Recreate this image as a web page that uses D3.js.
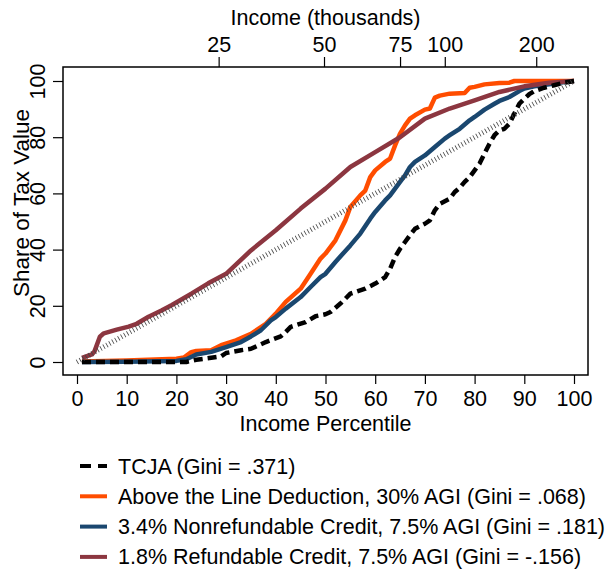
<!DOCTYPE html>
<html lang="en">
<head>
    <meta charset="UTF-8">
    <title>Share of Tax Value by Income Percentile</title>
    <script src="https://d3js.org/d3.v7.min.js"></script>
    <style>
        body {margin:0;background:#fff}
        text {font-family:"Liberation Sans", Arial, sans-serif;fill:#000}
    </style>
</head>
<body>
    <div id="chart"></div>
    <script>
        // series: percentile -> cumulative share of tax value
        var tcjaPct = [1, 22, 24, 27, 29, 30, 33, 35, 38, 41, 42, 43, 46, 48, 50, 51, 53, 55, 58, 60, 61, 62, 63, 64, 65, 66, 67, 68, 70, 71, 72, 73, 75, 76, 77, 78, 79, 80, 81, 82, 83, 84, 85, 86, 87, 88, 89, 90, 91, 92, 94, 96, 98, 100];
        var tcjaVal = [0, 0, 0.8, 1.5, 2, 3.2, 4.2, 4.7, 7.1, 9.1, 10.7, 12.5, 14.2, 16.3, 17, 17.8, 20.8, 24.3, 26.1, 27.9, 29, 30.2, 33.2, 37.4, 40.3, 42.7, 45.1, 47.4, 49.2, 50.4, 54, 56.3, 58.1, 60.5, 62, 64.1, 65.8, 68.2, 70.6, 74.2, 77.7, 80.7, 82.4, 83, 84.8, 88.4, 91.9, 93.7, 95.3, 96.4, 97.6, 98.5, 99.4, 100];

        var atlPct = [1, 10, 20, 21.5, 23, 24, 27, 29, 32, 35, 38, 40, 42, 45, 47, 49, 50, 52, 54, 55, 57, 58, 59, 60, 62, 63, 64, 65, 66, 67, 68, 70, 71, 72, 73, 75, 78, 79, 80, 82, 85, 87, 88, 90, 100];
        var atlVal = [0.2, 0.5, 1.2, 1.6, 3.5, 3.9, 4.2, 6, 7.7, 10, 13.6, 17.2, 21.4, 26.1, 31.4, 36.8, 38.6, 43.3, 50.4, 55.2, 59.3, 61, 65.8, 68.2, 71.2, 72.4, 77.1, 81.3, 84.2, 86.6, 87.8, 89.8, 90.2, 94.1, 94.8, 95.5, 95.7, 97.6, 97.9, 98.8, 99.3, 99.4, 100, 100, 100];

        var nonrefPct = [1, 10, 20, 22, 24, 27, 30, 33, 35, 37, 39, 40, 42, 45, 47, 49, 50, 52, 55, 57, 59, 60, 62, 63, 65, 66, 67, 68, 70, 72, 74, 75, 77, 79, 80, 82, 84, 85, 87, 89, 90, 92, 95, 97, 100];
        var nonrefVal = [0, 0.1, 0.4, 1, 2.7, 3.6, 5.3, 7.1, 9.1, 11.3, 14.8, 16, 19, 23.1, 26.7, 30.2, 31.4, 35.6, 41.5, 45.7, 51, 53.4, 57.5, 59.3, 64.1, 66.4, 69.4, 71.2, 73.5, 76.5, 79.5, 80.7, 83, 86, 87.2, 89.8, 91.9, 92.9, 94.3, 96.4, 97.3, 98.1, 98.8, 99.4, 100];

        var refPct = [1, 3, 3.5, 4.6, 5.4, 8, 10.4, 12, 14.4, 17, 19.1, 23.1, 26.4, 30, 35, 40, 45, 50, 55, 60, 65, 70, 75, 80, 85, 90, 95, 100];
        var refVal = [1.5, 2.7, 3.7, 9, 10.2, 11.5, 12.6, 13.6, 16.1, 18.3, 20.3, 24.4, 28, 31.4, 39.7, 46.9, 54.6, 61.7, 69.4, 74.7, 80, 86.6, 90.2, 93.1, 96.1, 98.1, 99.4, 100];

        var equalityPct = [0, 100];

        var pctTicks = [0, 10, 20, 30, 40, 50, 60, 70, 80, 90, 100];
        var shareTicks = [0, 20, 40, 60, 80, 100];
        var incomeLabels = ["25", "50", "75", "100", "200"];
        var incomeAtPct = [28.5, 49.7, 65, 74, 92.4];

        var seriesNames = [
            "TCJA (Gini = .371)",
            "Above the Line Deduction, 30% AGI (Gini = .068)",
            "3.4% Nonrefundable Credit, 7.5% AGI (Gini = .181)",
            "1.8% Refundable Credit, 7.5% AGI (Gini = -.156)"
        ];

        var W = 610, H = 572;
        var box = {left: 63, right: 588, top: 67, bottom: 375};
        var fs = 21.5;

        var svg = d3.select("#chart").append("svg")
            .attr("width", W)
            .attr("height", H);

        var x = d3.scaleLinear().domain([0, 100]).range([77, 574]);
        var y = d3.scaleLinear().domain([0, 100]).range([362, 81]);

        function zipSeries(ps, vs) {
            return ps.map((p, i) => ({p: p, v: vs[i]}));
        }
        var line = d3.line().x(d => x(d.p)).y(d => y(d.v));

        var series = [
            {name: seriesNames[1], data: zipSeries(atlPct, atlVal), color: "#ff4d00", dash: null},
            {name: seriesNames[2], data: zipSeries(nonrefPct, nonrefVal), color: "#1a476f", dash: null},
            {name: seriesNames[3], data: zipSeries(refPct, refVal), color: "#8c3640", dash: null},
            {name: seriesNames[0], data: zipSeries(tcjaPct, tcjaVal), color: "#000", dash: "9,5"}
        ];

        svg.selectAll("path.series")
            .data(series)
            .enter()
            .append("path")
            .attr("class", "series")
            .attr("d", d => line(d.data))
            .attr("fill", "none")
            .attr("stroke", d => d.color)
            .attr("stroke-width", 4.5)
            .attr("stroke-linejoin", "round")
            .attr("stroke-dasharray", d => d.dash);

        // line of equality, drawn as fine hatching
        svg.append("path")
            .attr("d", line(equalityPct.map(p => ({p: p, v: p}))))
            .attr("fill", "none")
            .attr("stroke", "#444")
            .attr("stroke-width", 5)
            .attr("stroke-dasharray", "0.8,2.6");

        // plot frame
        svg.append("rect")
            .attr("x", box.left)
            .attr("y", box.top)
            .attr("width", box.right - box.left)
            .attr("height", box.bottom - box.top)
            .attr("fill", "none")
            .attr("stroke", "#000")
            .attr("stroke-width", 1.5);

        // bottom axis
        var bottomAxis = svg.append("g")
            .attr("transform", `translate(0,${box.bottom})`)
            .call(d3.axisBottom(x).tickValues(pctTicks).tickSize(9).tickSizeOuter(0).tickPadding(7));
        bottomAxis.select(".domain").remove();

        // left axis, labels turned on their side
        var leftAxis = svg.append("g")
            .attr("transform", `translate(${box.left},0)`)
            .call(d3.axisLeft(y).tickValues(shareTicks).tickSize(10).tickSizeOuter(0));
        leftAxis.select(".domain").remove();
        leftAxis.selectAll(".tick text")
            .attr("x", 0)
            .attr("dy", 0)
            .attr("text-anchor", "middle")
            .attr("transform", "translate(-18,0) rotate(-90)");

        // top axis: income in thousands at the matching percentile
        var topAxis = svg.append("g")
            .attr("transform", `translate(0,${box.top})`)
            .call(d3.axisTop(x).tickValues(incomeAtPct).tickSize(10).tickSizeOuter(0).tickPadding(5)
                .tickFormat((d, i) => incomeLabels[i]));
        topAxis.select(".domain").remove();

        svg.selectAll(".tick line").attr("stroke", "#000").attr("stroke-width", 1.2);
        svg.selectAll(".tick text")
            .attr("font-family", "Liberation Sans, Arial, sans-serif")
            .attr("font-size", fs)
            .attr("fill", "#000");

        svg.append("text")
            .attr("x", (box.left + box.right) / 2)
            .attr("y", 25)
            .attr("text-anchor", "middle")
            .style("font-size", fs + "px")
            .text("Income (thousands)");

        svg.append("text")
            .attr("x", (box.left + box.right) / 2)
            .attr("y", 431)
            .attr("text-anchor", "middle")
            .style("font-size", fs + "px")
            .text("Income Percentile");

        svg.append("text")
            .attr("transform", `translate(29,203) rotate(-90)`)
            .attr("text-anchor", "middle")
            .style("font-size", "22.5px")
            .text("Share of Tax Value");

        // legend
        var legendOrder = [3, 0, 1, 2];
        var legend = svg.selectAll("g.legend")
            .data(legendOrder.map(i => series[i]))
            .enter()
            .append("g")
            .attr("class", "legend")
            .attr("transform", (d, i) => `translate(80,${466 + i * 30.3})`);

        legend.append("line")
            .attr("x1", 0)
            .attr("x2", 27)
            .attr("stroke", d => d.color)
            .attr("stroke-width", 4)
            .attr("stroke-dasharray", d => d.dash ? "11,7" : null);

        legend.append("text")
            .attr("x", 38)
            .attr("dy", "0.35em")
            .style("font-size", fs + "px")
            .text(d => d.name);
    </script>
</body>
</html>
